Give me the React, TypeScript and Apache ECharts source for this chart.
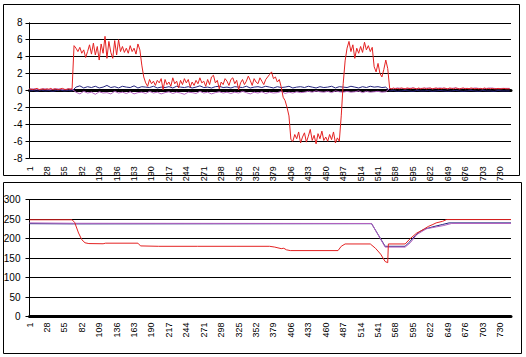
import React, { useEffect, useRef } from "react";
import * as echarts from "echarts";

// categories 1..747
const categories: string[] = Array.from({ length: 747 }, (_, i) => String(i + 1));
const LABEL_EVERY = 27;

// top chart – red series, one value every 3 categories (index 0..744)
const TOP_RED_STEP = 3;
const redTop: number[] = [
  // 0-66
  0.2, 0.15, 0.1, 0.2, 0.25, 0.1, 0.15, 0.2, 0.1, 0.2, 0.15, 0.25, 0.1, 0.2, 0.15, 0.1, 0.2, 0.25, 0.15, 0.1, 0.2, 0.15, 0.2,
  // 69-171
  5.3, 5.0, 4.6, 5.1, 4.4, 4.8, 3.9, 4.6, 5.4, 4.3,
  5.6, 4.2, 5.2, 3.6, 5.5, 4.4, 6.4, 3.8, 5.8, 4.5,
  3.8, 5.9, 4.2, 6.0, 4.6, 5.2, 4.5, 5.0, 4.4, 5.3,
  4.6, 5.0, 4.3, 5.5, 4.8,
  // 174-378
  3.0, 1.6, 0.9, 0.5, 1.3, 0.8, 1.1, 0.6, 1.2, 0.9,
  1.4, 0.1, 1.3, 0.7, 1.0, 0.5, 1.5, 0.8, 1.1, 0.3,
  1.2, 0.7, 1.4, 0.9, 1.3, 0.4, 1.0, 0.6, 1.2, 0.8,
  1.5, 0.9, 1.1, 0.5, 1.3, 0.7, 1.6, 1.8, 0.9, 1.2,
  0.2, 1.0, 0.7, 1.4, 1.1, 0.6, 1.3, 1.5, 0.8, 1.2,
  0.1, 0.9, 1.3, 0.7, 1.1, 1.7, 1.2, 0.6, 1.4, 1.0,
  0.8, 1.5, 1.1, 0.7, 1.3, 1.6, 1.9, 2.2, 1.4,
  // 381-480
  1.6, 1.0, 1.3, 0.4, -0.8, -1.2, -2.0, -3.0, -5.8, -6.0,
  -5.2, -5.7, -4.9, -6.2, -5.5, -5.0, -6.1, -5.4, -4.6, -5.9,
  -5.3, -6.3, -5.1, -5.7, -4.8, -5.9, -5.5, -6.0, -5.2, -5.8,
  -4.9, -6.2, -5.6, -6.0,
  // 483-555
  -3.0, 0.8, 3.5, 5.0, 5.8, 4.6, 5.4, 3.8, 5.0, 4.4,
  5.2, 4.5, 5.7, 4.8, 5.3, 4.6, 5.1, 2.8, 2.2, 3.2,
  2.0, 1.6, 2.5, 3.6, 2.6,
  // 558-744
  0.25, 0.2, 0.3, 0.2, 0.25, 0.2, 0.3, 0.25, 0.2, 0.3,
  0.25, 0.2, 0.3, 0.25, 0.2, 0.3, 0.2, 0.25, 0.3, 0.2,
  0.25, 0.3, 0.2, 0.25, 0.3, 0.2, 0.25, 0.2, 0.3, 0.25,
  0.2, 0.3, 0.25, 0.2, 0.3, 0.25, 0.2, 0.25, 0.3, 0.2,
  0.25, 0.2, 0.3, 0.25, 0.2, 0.25, 0.2, 0.25, 0.2, 0.3,
  0.2, 0.25, 0.2, 0.25, 0.2, 0.2, 0.25, 0.2, 0.2, 0.25,
  0.2, 0.2, 0.2,
];

// top chart – navy and purple series, one value every 6 categories
const TOP_SMALL_STEP = 6;
const navyTop: number[] = [
  -0.05, 0.0, -0.1, 0.05, -0.05, 0.0, -0.1, 0.0, 0.05, -0.05, 0.0, -0.05,
  0.4, 0.55, 0.3, 0.45, 0.35, 0.5, 0.3, 0.4, 0.6, 0.35,
  0.45, 0.3, 0.5, 0.4, 0.35, 0.55, 0.3, 0.45, 0.4, 0.35,
  0.5, 0.3, 0.4, 0.35, 0.45, 0.3, 0.5, 0.4, 0.35, 0.45,
  0.3, 0.4, 0.55, 0.35, 0.4, 0.3, 0.45, 0.5, 0.35, 0.4,
  0.3, 0.45, 0.4, 0.35, 0.5, 0.3, 0.4, 0.45, 0.35, 0.5,
  0.4, 0.3, 0.45, 0.35, 0.4, 0.5, 0.3, 0.4, 0.45, 0.35,
  0.5, 0.4, 0.3, 0.45, 0.35, 0.4, 0.5, 0.3, 0.45, 0.4,
  0.35, 0.5, 0.4, 0.3, 0.45, 0.35, 0.5, 0.4, 0.45, 0.35,
  0.4,
  -0.05, 0.0, -0.1, -0.05, 0.0, -0.05, -0.1, 0.0, -0.05, -0.05,
  0.0, -0.1, -0.05, 0.0, -0.05, -0.1, -0.05, 0.0, -0.05, -0.1,
  -0.05, 0.0, -0.05, -0.1, 0.0, -0.05, -0.05, -0.1, 0.0, -0.05,
  -0.05, -0.05,
];
const purpleTop: number[] = [
  0.15, 0.2, 0.1, 0.15, 0.2, 0.1, 0.15, 0.2, 0.15, 0.1, 0.2, 0.15,
  -0.2, -0.4, -0.1, -0.3, -0.2, -0.45, -0.15, -0.3, -0.25, -0.4,
  -0.1, -0.3, -0.2, -0.35, -0.15, -0.4, -0.25, -0.2, -0.35, -0.1,
  -0.3, -0.2, -0.4, -0.25, -0.15, -0.35, -0.2, -0.3, -0.45, -0.2,
  -0.25, -0.35, -0.1, -0.3, -0.2, -0.4, -0.25, -0.15, -0.3, -0.2,
  -0.35, -0.2, -0.3, -0.1, -0.25, -0.4, -0.2, -0.3, -0.15, -0.35,
  -0.2, -0.3, -0.25, -0.1, -0.35, -0.2, -0.3, -0.15, -0.25, -0.2,
  -0.1, -0.2, -0.05, -0.15, -0.2, -0.1, -0.25, -0.05, -0.15, -0.2,
  -0.1, -0.2, -0.15, -0.05, -0.25, -0.1, -0.2, -0.15, -0.1, -0.2,
  -0.15,
  0.25, 0.2, 0.3, 0.25, 0.2, 0.25, 0.3, 0.2, 0.25, 0.25,
  0.3, 0.2, 0.25, 0.3, 0.25, 0.2, 0.25, 0.3, 0.2, 0.25,
  0.25, 0.2, 0.3, 0.25, 0.2, 0.25, 0.3, 0.25, 0.2, 0.25,
  0.25, 0.25,
];

// bottom chart – [category index, value]
const redBottom: [number, number][] = [
  [0, 248], [66, 248], [70, 241], [76, 214], [81, 197], [86, 189], [92, 187],
  [114, 186.5], [118, 188], [168, 188], [172, 181], [200, 180], [260, 180],
  [320, 180], [372, 180], [380, 178], [385, 176], [390, 174], [394, 175],
  [398, 171], [404, 169], [478, 169], [483, 180], [489, 186], [528, 186],
  [536, 175], [544, 160], [551, 141], [555, 138], [556, 186], [582, 186],
  [590, 200], [600, 214], [606, 219], [612, 225], [618, 231], [625, 236],
  [630, 240], [640, 244], [646, 248.5], [746, 248.5],
];
const navyBottom: [number, number][] = [
  [0, 238], [68, 237.5], [530, 238], [551, 180], [582, 180], [588, 190],
  [598, 208], [605, 218], [612, 224], [625, 230], [640, 236], [650, 240], [746, 240],
];
const purpleBottom: [number, number][] = [
  [0, 240], [68, 239], [530, 238.5], [551, 178], [582, 178], [590, 189],
  [600, 210], [615, 225], [631, 230], [641, 233], [654, 238.5], [746, 238.5],
];

const topYTicks = { min: -8, max: 8, interval: 2 };
const bottomYTicks = { min: 0, max: 300, interval: 50 };

const RED = "#E42222";
const NAVY = "#23237E";
const PURPLE = "#B462C0";
const FONT = "'Liberation Sans', Arial, sans-serif";

const toPairs = (vals: number[], step: number) => vals.map((v, k) => [k * step, v]);

export default function App() {
  const ref = useRef<HTMLDivElement>(null);
  useEffect(() => {
    if (!ref.current) return;
    const chart = echarts.init(ref.current, undefined, { renderer: "svg" });
    const xAxisBase = (gridIndex: number, margin: number) => ({
      type: "category" as const,
      gridIndex,
      data: categories,
      boundaryGap: false,
      axisLine: { show: true, onZero: true, lineStyle: { color: "#000", width: 3 } },
      axisTick: { show: false },
      splitLine: { show: false },
      axisLabel: {
        rotate: 90,
        interval: (index: number) => index % LABEL_EVERY === 0,
        hideOverlap: false,
        margin,
        fontSize: 9,
        color: "#000",
        fontFamily: FONT,
      },
    });
    const yAxisBase = (gridIndex: number, t: any, margin: number) => ({
      type: "value" as const,
      gridIndex,
      min: t.min,
      max: t.max,
      interval: t.interval,
      axisLine: { show: true, lineStyle: { color: "#000", width: 1 } },
      axisTick: { show: true, length: 4, lineStyle: { color: "#000", width: 1 } },
      splitLine: { show: true, lineStyle: { color: "#000", width: 1 } },
      axisLabel: { margin, fontSize: 10, color: "#000", fontFamily: FONT },
    });
    const lineSeries = (name: string, xi: number, data: any[], color: string) => ({
      type: "line" as const,
      name,
      xAxisIndex: xi,
      yAxisIndex: xi,
      data,
      symbol: "none",
      showSymbol: false,
      lineStyle: { color, width: 1 },
      itemStyle: { color },
      emphasis: { disabled: true },
      z: 3,
    });
    chart.setOption({
      animation: false,
      backgroundColor: "#fff",
      textStyle: { fontFamily: FONT },
      grid: [
        { left: 29.5, top: 22.8, width: 481.5, height: 135.4, outerBoundsMode: "none", containLabel: false },
        { left: 29.5, top: 199.5, width: 481.5, height: 117, outerBoundsMode: "none", containLabel: false },
      ],
      xAxis: [xAxisBase(0, 8), xAxisBase(1, 6)],
      yAxis: [yAxisBase(0, topYTicks, 7), yAxisBase(1, bottomYTicks, 9)],
      series: [
        lineSeries("Navy top", 0, toPairs(navyTop, TOP_SMALL_STEP), NAVY),
        lineSeries("Purple top", 0, toPairs(purpleTop, TOP_SMALL_STEP), PURPLE),
        lineSeries("Red top", 0, toPairs(redTop, TOP_RED_STEP), RED),
        lineSeries("Navy bottom", 1, navyBottom, NAVY),
        lineSeries("Purple bottom", 1, purpleBottom, PURPLE),
        lineSeries("Red bottom", 1, redBottom, RED),
      ],
      graphic: [
        {
          type: "rect",
          shape: { x: 3.5, y: 4.5, width: 516, height: 171 },
          style: { fill: "none", stroke: "#000", lineWidth: 1 },
          silent: true,
        },
        {
          type: "rect",
          shape: { x: 3.5, y: 182.5, width: 518, height: 171 },
          style: { fill: "none", stroke: "#000", lineWidth: 1 },
          silent: true,
        },
      ],
    });
    return () => chart.dispose();
  }, []);
  return (
    <div
      ref={ref}
      style={{ position: "absolute", left: 0, top: 0, width: 526, height: 357, background: "#fff" }}
    />
  );
}
